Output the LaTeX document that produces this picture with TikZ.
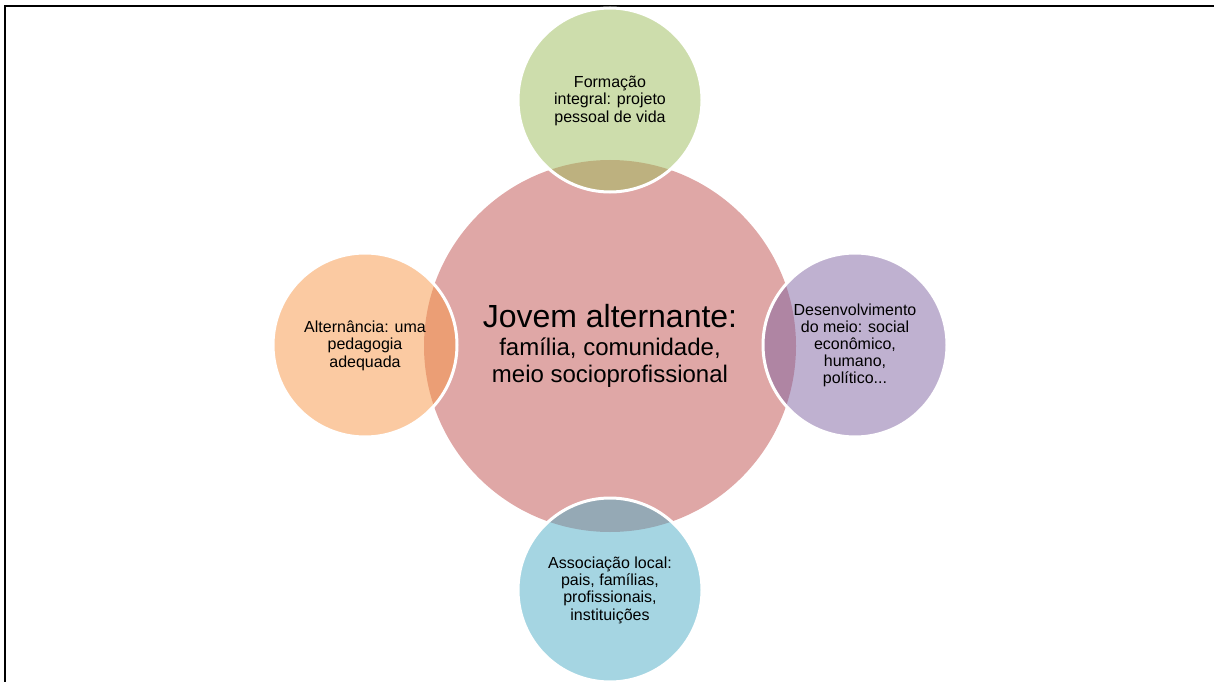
\documentclass[tikz,border=0pt]{standalone}
\usepackage{fontspec}
\setmainfont{Liberation Sans}
\definecolor{hubred}{HTML}{C0504D}
\definecolor{satgreen}{HTML}{9BBB59}
\definecolor{satpurple}{HTML}{8064A2}
\definecolor{satblue}{HTML}{4BACC6}
\definecolor{satorange}{HTML}{F79646}
\newcommand\satstrut{\rule[-4.5bp]{0pt}{18.5bp}}
\tikzset{
	hub/.style={circle, fill=hubred, fill opacity=0.5, text opacity=1, minimum size=372bp, inner sep=0pt, align=center, font=\fontsize{24bp}{27.5bp}\selectfont},
	sat/.style={circle, draw=white, line width=3bp, fill opacity=0.5, draw opacity=1, text opacity=1, minimum size=184bp, inner sep=0pt, align=center, font=\fontsize{16bp}{17bp}\selectfont}
}

\begin{document}
\begin{tikzpicture}[x=1bp, y=-1bp]
		%%%%% START %%%%%
		\useasboundingbox (0, 0) rectangle (1214, 682);
		\clip (0, 0) rectangle (1214, 682);
		
		\draw[line width=2bp] (5, 700) -- (5, 6) -- (1230, 6);
		
		\node[hub] (jovem) at (610, 346) {{\fontsize{32bp}{27bp}\selectfont Jovem alternante:}\\família, comunidade,\\meio socioprofissional};
		
		\node[sat, fill=satgreen] (formacao) at (610, 100) {\satstrut Formação\\integral: projeto\\pessoal de vida\satstrut};
		\node[sat, fill=satpurple] (desenv) at (855, 345) {\satstrut Desenvolvimento\\do meio: social\\econômico,\\humano,\\político...\satstrut};
		\node[sat, fill=satblue] (assoc) at (610, 590) {\satstrut Associação local:\\pais, famílias,\\profissionais,\\instituições\satstrut};
		\node[sat, fill=satorange] (altern) at (365, 345) {\satstrut Alternância: uma\\pedagogia\\adequada\satstrut};
		
		%%%%% END %%%%%
	\end{tikzpicture}
\end{document}
